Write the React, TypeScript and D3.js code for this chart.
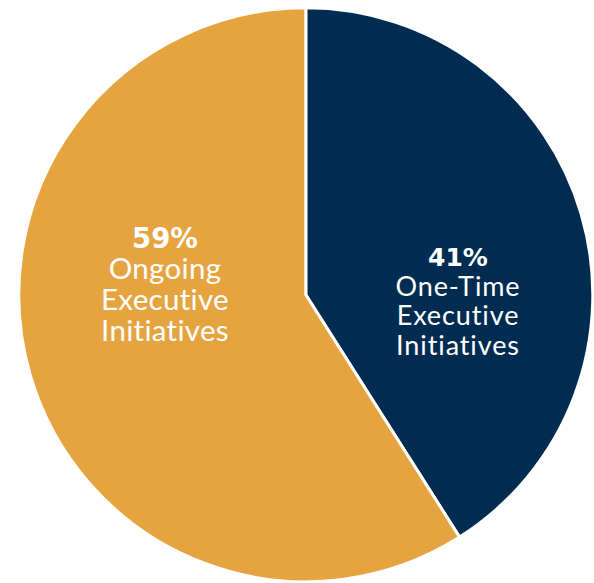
import * as d3 from "d3";

const categories = ["One-Time Executive Initiatives", "Ongoing Executive Initiatives"];
const shares = [41, 59];
const percentLabels = ["41%", "59%"];
const labelLines = [
  ["One-Time", "Executive", "Initiatives"],
  ["Ongoing", "Executive", "Initiatives"]
];
const colors = ["#012c52", "#e6a441"];

const width = 594;
const height = 583;
const cx = 305.8;
const cy = 294.8;
const radius = 287;

// hand-placed label anchors (x centre, first baseline), font sizes, line pitch
const labelLayout = [
  { x: 458, y: 266, pct: 25, text: 27, pitch: 29.5, spacing: 0.9 },
  { x: 165, y: 247.5, pct: 27.5, text: 29.5, pitch: 31, spacing: 0.3 }
];

export default function App() {
  const pie = d3
    .pie<number>()
    .sort(null)
    .value((d) => d);
  const arcs = pie(shares);
  const arc = d3.arc<d3.PieArcDatum<number>>().innerRadius(0).outerRadius(radius);

  return (
    <svg
      width={width}
      height={height}
      style={{ position: "absolute", left: 0, top: 0, background: "#fff" }}
    >
      <g transform={`translate(${cx},${cy})`}>
        {arcs.map((a, i) => (
          <path key={categories[i]} d={arc(a) ?? undefined} fill={colors[i]} stroke="#fff" strokeWidth={3} strokeLinejoin="round" />
        ))}
      </g>
      {labelLayout.map((l, i) => (
        <g key={categories[i]} fill="#fff" textAnchor="middle">
          <text
            x={l.x}
            y={l.y}
            fontFamily="'DejaVu Sans', sans-serif"
            fontWeight={700}
            fontSize={l.pct}
          >
            {percentLabels[i]}
          </text>
          {labelLines[i].map((line, j) => (
            <text
              key={line}
              x={l.x}
              y={l.y + l.pitch * (j + 1)}
              fontFamily="Lato, sans-serif"
              fontSize={l.text}
              letterSpacing={l.spacing}
            >
              {line}
            </text>
          ))}
        </g>
      ))}
    </svg>
  );
}
